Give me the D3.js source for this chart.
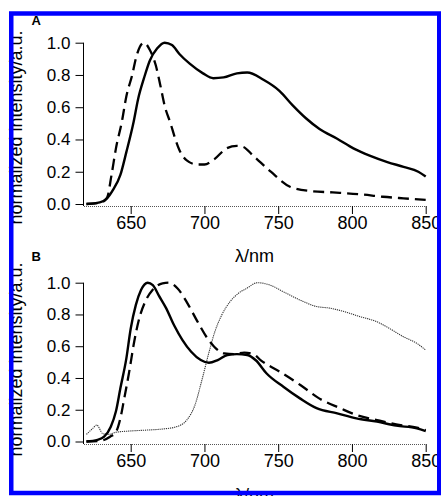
<!DOCTYPE html>
<html><head><meta charset="utf-8">
<script src="https://cdn.jsdelivr.net/npm/d3@7/dist/d3.min.js"></script>
<style>html,body{margin:0;padding:0;background:#fff;} svg{display:block;}</style>
</head><body><svg id="c" width="441" height="496"></svg>
<script>
// ---- data ----
const xTicks = [650, 700, 750, 800, 850];
const yTicks = [0, 0.2, 0.4, 0.6, 0.8, 1.0];
const panelLabels = ["A", "B"];
const yTitle = "normalized intensity/a.u.";
const xTitle = "λ/nm";

// Panel A, solid
const aSolidWl  = [620, 629, 634, 638, 643, 647, 652, 655, 659, 663, 668, 673, 678, 683, 690, 699, 706, 713, 722, 729, 740, 751, 760, 769, 778, 790, 801, 812, 824, 835, 845, 850];
const aSolidVal = [0.0, 0.01, 0.035, 0.087, 0.18, 0.32, 0.51, 0.65, 0.78, 0.89, 0.965, 1.0, 0.985, 0.93, 0.87, 0.81, 0.78, 0.785, 0.81, 0.815, 0.77, 0.70, 0.61, 0.53, 0.465, 0.405, 0.345, 0.30, 0.26, 0.23, 0.20, 0.17];
// Panel A, dashed
const aDashWl  = [620, 630, 634, 637, 640, 644, 647, 651, 654, 659, 663, 667, 670, 673, 677, 680, 683, 688, 695, 700, 707, 715, 722, 726, 733, 745, 758, 772, 787, 806, 821, 835, 850];
const aDashVal = [0.0, 0.01, 0.04, 0.18, 0.345, 0.51, 0.665, 0.80, 0.92, 1.0, 0.955, 0.86, 0.74, 0.61, 0.50, 0.41, 0.335, 0.27, 0.245, 0.245, 0.28, 0.345, 0.36, 0.355, 0.30, 0.20, 0.107, 0.08, 0.072, 0.06, 0.045, 0.035, 0.025];

// Panel B, solid
const bSolidWl  = [620, 627.5, 632, 636.5, 640, 643, 647, 650, 653.5, 657, 661.5, 665, 669, 674, 679.5, 685, 691, 697.5, 703, 709, 715.6, 722, 729, 735, 742, 753.5, 765, 776, 790, 803, 817, 830, 844, 850];
const bSolidVal = [0.0, 0.01, 0.03, 0.093, 0.19, 0.335, 0.52, 0.71, 0.86, 0.954, 1.0, 0.985, 0.92, 0.84, 0.73, 0.64, 0.565, 0.513, 0.496, 0.513, 0.545, 0.55, 0.545, 0.51, 0.43, 0.345, 0.27, 0.21, 0.177, 0.146, 0.125, 0.10, 0.083, 0.066];
// Panel B, dashed
const bDashWl  = [620, 630, 636, 640, 643, 645.6, 649, 652.4, 655.8, 660.3, 664.8, 671.6, 676, 681.8, 688.5, 695.3, 702, 706.6, 713.4, 720, 727, 734, 738, 751, 765, 778, 792, 803, 817, 830, 844, 850];
const bDashVal = [0.0, 0.005, 0.03, 0.06, 0.146, 0.27, 0.44, 0.63, 0.775, 0.89, 0.954, 0.996, 1.0, 0.964, 0.87, 0.755, 0.65, 0.597, 0.555, 0.55, 0.56, 0.545, 0.513, 0.44, 0.356, 0.27, 0.21, 0.167, 0.135, 0.108, 0.087, 0.072];
// Panel B, dotted
const bDotWl  = [620, 624, 627, 631, 635, 640, 649.5, 661, 672, 681, 688, 693.6, 698, 702.6, 707, 711.7, 717.3, 723, 728.6, 736, 744.5, 753.5, 765, 776, 785, 794, 805.5, 816.7, 825.8, 834.8, 844, 850];
const bDotVal = [0.045, 0.08, 0.104, 0.05, 0.045, 0.058, 0.066, 0.072, 0.079, 0.093, 0.135, 0.23, 0.377, 0.545, 0.69, 0.796, 0.88, 0.933, 0.964, 1.0, 0.985, 0.943, 0.89, 0.85, 0.84, 0.82, 0.786, 0.755, 0.71, 0.66, 0.618, 0.576];

// ---- drawing ----
const FONT = "'Liberation Sans', Arial, Helvetica, sans-serif";
const svg = d3.select("#c");
svg.append("rect").attr("width", 441).attr("height", 496).attr("fill", "#fff");

const x = d3.scaleLinear().domain([618, 850]).range([83.5, 425.7]);

const styles = {
  solid:  {stroke: "#000", width: 2.4, dash: null},
  dashed: {stroke: "#000", width: 2.3, dash: "11,6"},
  dotted: {stroke: "#333", width: 1.1, dash: "1.2,0.9"}
};

const panels = [
  {label: panelLabels[0], yBottom: 204, yTop: 42.7, axisY: 206, titleY: 127.5, xTitleY: 262, labelY: 24.5,
   series: [["dashed", aDashWl, aDashVal], ["solid", aSolidWl, aSolidVal]]},
  {label: panelLabels[1], yBottom: 441.5, yTop: 282.7, axisY: 444, titleY: 359.5, xTitleY: 501, labelY: 261,
   series: [["dotted", bDotWl, bDotVal], ["dashed", bDashWl, bDashVal], ["solid", bSolidWl, bSolidVal]]}
];

panels.forEach(p => {
  const y = d3.scaleLinear().domain([0, 1]).range([p.yBottom, p.yTop]);
  const g = svg.append("g");

  const xa = g.append("g").attr("transform", `translate(0,${p.axisY})`)
    .call(d3.axisBottom(x).tickValues(xTicks).tickFormat(d3.format("d")).tickSize(8).tickSizeOuter(0).tickPadding(2));
  xa.select(".domain").attr("stroke", "#555").attr("stroke-dasharray", "1,1").attr("stroke-width", 1);
  xa.selectAll(".tick line").attr("stroke", "#000");
  xa.selectAll(".tick text").attr("font-family", FONT).attr("font-size", 18).attr("fill", "#000");

  const ya = g.append("g").attr("transform", `translate(${x.range()[0]},0)`)
    .call(d3.axisLeft(y).tickValues(yTicks).tickFormat(d3.format(".1f")).tickSize(8).tickSizeOuter(0).tickPadding(5));
  ya.select(".domain").attr("stroke", "#000").attr("d", `M0,${p.axisY}V${p.yTop}`);
  ya.selectAll(".tick line").attr("stroke", "#000");
  ya.selectAll(".tick text").attr("font-family", FONT).attr("font-size", 17).attr("fill", "#000");

  p.series.forEach(([kind, wl, val]) => {
    const st = styles[kind];
    const data = wl.map((w, i) => [w, val[i]]);
    const line = d3.line().x(d => x(d[0])).y(d => y(d[1])).curve(d3.curveMonotoneX);
    g.append("path").datum(data).attr("d", line)
      .attr("fill", "none").attr("stroke", st.stroke).attr("stroke-width", st.width)
      .attr("stroke-dasharray", st.dash).attr("stroke-linejoin", "round");
  });

  g.append("text").attr("transform", `translate(21.5,${p.titleY}) rotate(-90)`)
    .attr("text-anchor", "middle").attr("font-family", FONT).attr("font-size", 18).text(yTitle);
  g.append("text").attr("x", (x.range()[0] + x.range()[1]) / 2).attr("y", p.xTitleY)
    .attr("text-anchor", "middle").attr("font-family", FONT).attr("font-size", 18).text(xTitle);
  g.append("text").attr("x", 31.5).attr("y", p.labelY)
    .attr("font-family", FONT).attr("font-size", 13).attr("font-weight", "bold").text(p.label);
});

svg.append("rect").attr("x", 11.25).attr("y", 13.5).attr("width", 428).attr("height", 479.5)
  .attr("fill", "none").attr("stroke", "#0000ff").attr("stroke-width", 4.5);
</script></body></html>
